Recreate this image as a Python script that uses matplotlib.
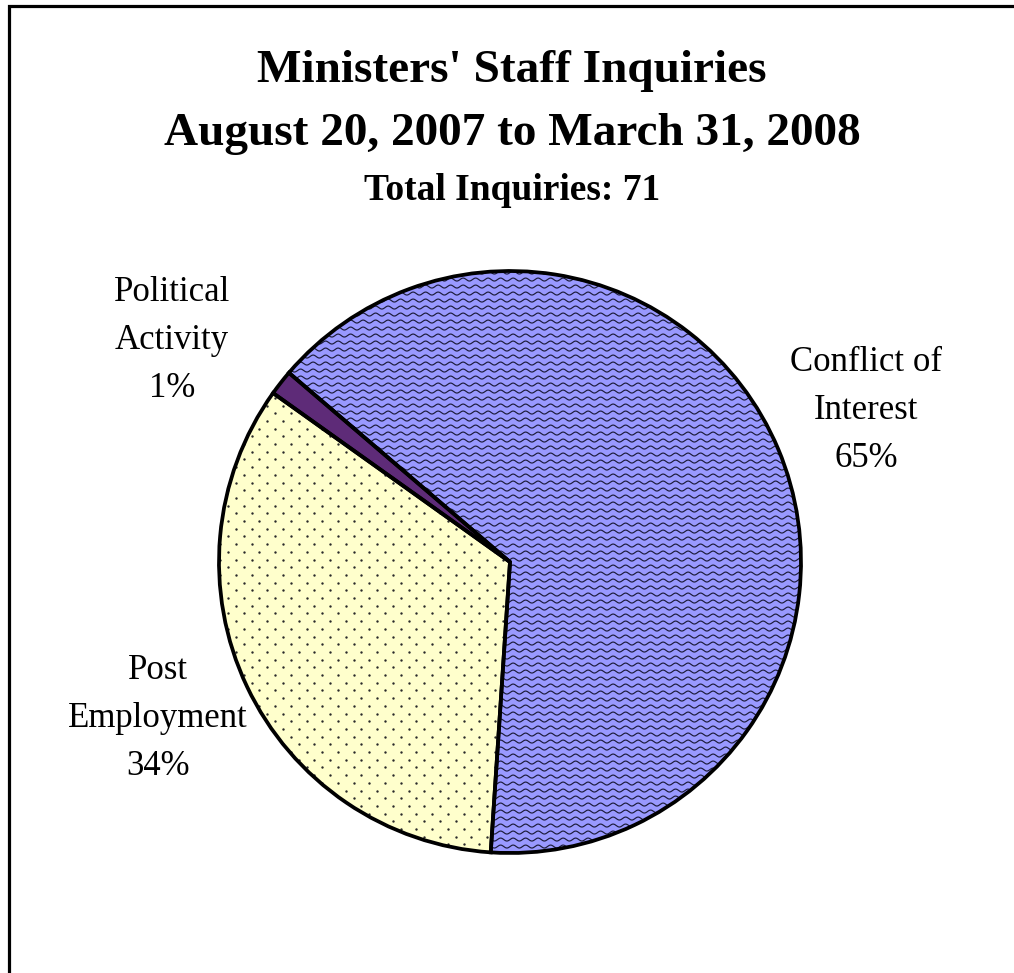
import numpy as np
import matplotlib
matplotlib.use("Agg")
import matplotlib.pyplot as plt
from matplotlib.patches import Wedge, Rectangle

categories = ["Conflict of\nInterest", "Political\nActivity", "Post\nEmployment"]
counts = [46, 1, 24]
colors = ["#9999FF", "#5E2B78", "#FFFFCC"]
title_lines = ["Ministers' Staff Inquiries", "August 20, 2007 to March 31, 2008"]
total = sum(counts)

W, H = 1014, 973
fig = plt.figure(figsize=(W / 100, H / 100), dpi=100)
serif = ["Liberation Serif", "DejaVu Serif"]

# pie centre (510, 562) px, radius 291 px
cx, cy, R = 510, 562, 291
half = 1.2 * R
ax = fig.add_axes([(cx - half) / W, (H - cy - half) / H, 2 * half / W, 2 * half / H])

wedges, _ = ax.pie(counts, colors=colors, startangle=-93.8, counterclock=True,
                   radius=1.0, wedgeprops=dict(linewidth=0, edgecolor="none"))
ax.set_xlim(-1.2, 1.2)
ax.set_ylim(-1.2, 1.2)
ax.set_aspect("equal")
ax.axis("off")
for w in wedges:
    w.set_zorder(1)

# wavy texture on Conflict of Interest
px = 1.0 / R
xs = np.linspace(-1.05, 1.05, 1200)
for y0 in np.arange(-1.05, 1.05, 7 * px):
    ln, = ax.plot(xs, y0 + 1.5 * px * np.sin(2 * np.pi * xs / (12.5 * px)),
                  color="#1c1c3a", lw=0.85, zorder=2)
    ln.set_clip_path(wedges[0])

# dot texture on Post Employment
dx, dy = 15.7 * px, 7.7 * px
pts = []
for i, yy in enumerate(np.arange(-1.05, 1.05, dy)):
    off = (dx / 2) if i % 2 else 0
    for xx in np.arange(-1.05 + off, 1.05, dx):
        pts.append((xx, yy))
pts = np.array(pts)
sc = ax.scatter(pts[:, 0], pts[:, 1], s=3.0, color="#2a2a2a", linewidths=0, zorder=2)
sc.set_clip_path(wedges[2])

# outlines
for w in wedges:
    ax.add_patch(Wedge(w.center, w.r, w.theta1, w.theta2, fill=False,
                       edgecolor="black", linewidth=2.7, zorder=3,
                       joinstyle="miter"))

# labels (y = baseline of the last line)
label_pos = [(866, 467), (172, 397), (158, 775)]
for name, c, (lx, ly) in zip(categories, counts, label_pos):
    pct = round(100 * c / total)
    fig.text(lx / W, 1 - ly / H, f"{name}\n{pct}%", ha="center", va="baseline",
             multialignment="center", fontsize=25, family=serif, linespacing=1.6)

# titles
fig.text(512 / W, 1 - 82 / H, title_lines[0], ha="center", va="baseline",
         fontsize=34, fontweight="bold", family=serif)
fig.text(512 / W, 1 - 145 / H, title_lines[1], ha="center", va="baseline",
         fontsize=34, fontweight="bold", family=serif)
fig.text(512 / W, 1 - 200 / H, f"Total Inquiries: {total}", ha="center",
         va="baseline", fontsize=27, fontweight="bold", family=serif)

# chart border (clipped by image edge on right and bottom)
fig.patches.append(Rectangle((8.5 / W, -0.1), 1.2, 1.1 - 5.5 / H, fill=False,
                             edgecolor="black", linewidth=2.3,
                             transform=fig.transFigure, figure=fig))

fig.savefig("out.png", dpi=100)
